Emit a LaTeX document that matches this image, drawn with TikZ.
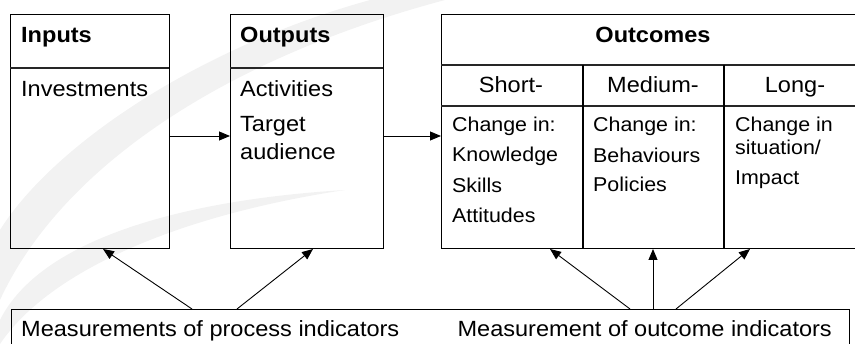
\documentclass[tikz,border=0pt]{standalone}
\usepackage{fontspec}
\setmainfont{Liberation Sans}
\usetikzlibrary{arrows.meta}
\newcommand\sx[1]{\scalebox{1.07}[1]{#1}}
\begin{document}
\begin{tikzpicture}[x=1pt,y=-1pt,
  box/.style={draw, line width=1.1pt, inner sep=0pt, anchor=north west},
  sep/.style={line width=1.3pt, draw=black!85},
  arr/.style={line width=0.9pt, -{Triangle[length=11pt,width=9pt]}},
  wm/.style={fill=black!5},
  lbl/.style={anchor=base west, inner sep=0pt, font=\fontsize{22}{26}\selectfont},
  sml/.style={anchor=base west, inner sep=0pt, font=\fontsize{20}{24}\selectfont},
  hdr/.style={anchor=base west, inner sep=0pt, font=\fontsize{22}{26}\selectfont\bfseries},
]
\useasboundingbox (0,0) rectangle (855,344);
\clip (0,0) rectangle (855,344);
% watermark
\fill[wm] (0,300) .. controls (60,170) and (220,60) .. (445,0) -- (370,0)
  .. controls (190,50) and (50,150) .. (0,230) -- cycle;
\fill[wm] (0,344) .. controls (50,270) and (180,215) .. (345,190)
  .. controls (180,200) and (40,240) .. (0,320) -- cycle;

% boxes
\node[box, minimum width=159pt, minimum height=234pt] (inputs) at (10,14) {};
\node[box, minimum width=153pt, minimum height=234pt] (outputs) at (230,14) {};
\node[box, minimum width=430pt, minimum height=234pt] (outcomes) at (441,14) {};
\node[box, minimum width=838pt, minimum height=80pt] (meas) at (11,309) {};

% separators
\draw[sep] (10,68) -- (169,68);
\draw[sep] (230,68) -- (383,68);
\draw[sep] (441,65) -- (860,65);
\draw[sep] (441,106) -- (860,106);
\draw[line width=1.1pt] (583,65) -- (583,248);
\draw[line width=1.1pt] (724,65) -- (724,248);

% headers
\node[hdr] (hin) at (21,43) {\sx{Inputs}};
\node[hdr] (hout) at (240,43) {\sx{Outputs}};
\node[hdr, anchor=base] (hoc) at (653,43) {\sx{Outcomes}};
\node[lbl, anchor=base] (hs) at (511,93) {\sx{Short-}};
\node[lbl, anchor=base] (hm) at (653,93) {\sx{Medium-}};
\node[lbl, anchor=base] (hl) at (795,93) {\sx{Long-}};

% bodies
\node[lbl] (t1) at (21,97) {\sx{Investments}};
\node[lbl] (t2) at (240,97) {\sx{Activities}};
\node[lbl] (t3) at (240,132) {\sx{Target}};
\node[lbl] (t4) at (240,160) {\sx{audience}};
\node[sml] (s1) at (452,132) {\sx{Change in:}};
\node[sml] (s2) at (452,162) {\sx{Knowledge}};
\node[sml] (s3) at (452,193) {\sx{Skills}};
\node[sml] (s4) at (452,223) {\sx{Attitudes}};
\node[sml] (m1) at (593,132) {\sx{Change in:}};
\node[sml] (m2) at (593,163) {\sx{Behaviours}};
\node[sml] (m3) at (593,192) {\sx{Policies}};
\node[sml] (l1) at (735,132) {\sx{Change in}};
\node[sml] (l2) at (735,155) {\sx{situation/}};
\node[sml] (l3) at (735,185) {\sx{Impact}};
\node[lbl] (b1) at (21,337) {\sx{Measurements of process indicators}};
\node[lbl, anchor=base east] (b2) at (832,337) {\sx{Measurement of outcome indicators}};

% arrows
\coordinate (row) at (0,136);
\draw[arr] (inputs.east |- row) -- (outputs.west |- row);
\draw[arr] (outputs.east |- row) -- (outcomes.west |- row);

\coordinate (p1) at (192,309); \coordinate (q1) at (103,249);
\coordinate (p2) at (237,309); \coordinate (q2) at (313,249);
\coordinate (p3) at (630,309); \coordinate (q3) at (550,249);
\coordinate (p4) at (653,309); \coordinate (q4) at (653,249);
\coordinate (p5) at (676,309); \coordinate (q5) at (750,249);
\draw[arr] (p1) -- (q1);
\draw[arr] (p2) -- (q2);
\draw[arr] (p3) -- (q3);
\draw[arr] (p4) -- (q4);
\draw[arr] (p5) -- (q5);
\end{tikzpicture}
\end{document}
